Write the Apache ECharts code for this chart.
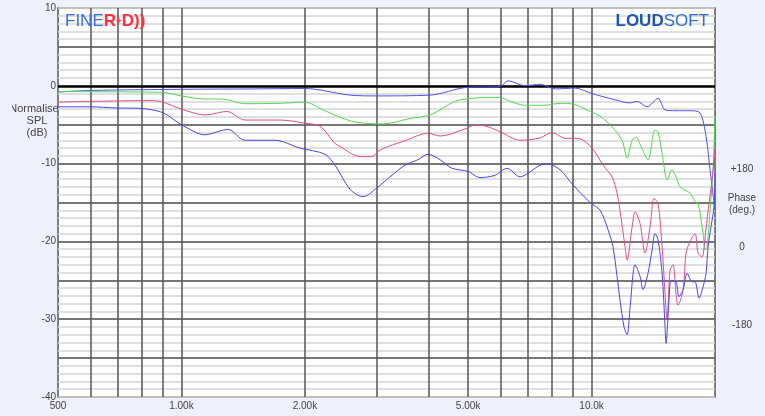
<!DOCTYPE html>
<html><head><meta charset="utf-8">
<script src="https://cdn.jsdelivr.net/npm/echarts@6/dist/echarts.min.js"></script>
<style>html,body{margin:0;padding:0;background:#eef0fb;}#c{width:765px;height:416px;}</style>
</head><body><div id="c"></div>
<script>
// ---- data (frequency in Hz, level in dB) ----
const topFreq = [500,600,1000,1500,2000,2580,3000,4040,4970,5980,6260,6880,7490,8150,9120,10030,11410,12420,12910,13660,14530,15110,15980,17390,18390,19020,19450,20000];
const topDb   = [-0.8,-0.6,-0.45,-0.4,-0.35,-1.2,-1.3,-1.2,-0.2,-0.1,0.65,0,0.2,-0.4,-0.3,-1.0,-1.8,-2.2,-2.0,-2.7,-1.6,-3.1,-3.2,-3.2,-3.5,-6.5,-10.8,-16];

const greenFreq = [500,900,1000,1140,1255,1430,1740,2000,2214,2620,3100,3610,4040,4780,5980,6330,6880,7700,8380,9010,9920,10490,11220,11870,12210,12560,12840,13200,13730,14280,14530,14940,15280,15720,16070,16440,17390,17880,18190,18710,18920,19130,19450,19780,20000];
const greenDb   = [-0.75,-0.85,-1.3,-1.7,-1.7,-2.3,-2.25,-2.1,-3.1,-4.6,-4.9,-4.2,-3.75,-1.8,-1.5,-2.0,-2.5,-2.5,-2.25,-2.35,-3.3,-3.9,-5.3,-7.0,-9.3,-7.0,-6.6,-7.8,-9.5,-5.7,-5.9,-9.5,-12.1,-10.8,-11.7,-13,-13.8,-14.9,-15.1,-19,-21.1,-20.7,-16,-10.8,-4];

const redFreq = [500,600,838,901,1000,1141,1291,1428,1739,2000,2177,2368,2436,2725,2915,3049,3509,3993,4271,4914,5198,5438,5982,6693,7488,8010,8618,9116,9376,10030,10670,11220,11540,11730,12070,12210,12560,12770,13130,13500,13890,14200,14530,14860,15110,15280,15540,15800,16070,16250,16720,17000,17390,17880,18190,18600,18920,19240,19670,20000];
const redDb   = [-2.1,-2.0,-1.9,-2.1,-3.0,-3.75,-3.3,-4.4,-4.4,-4.8,-5.2,-7.4,-7.8,-9.1,-9.1,-8.25,-7.05,-6.1,-6.45,-5.55,-5.05,-5.1,-5.9,-7.0,-6.7,-6.0,-6.75,-6.75,-6.8,-8.0,-10.2,-11.7,-13.8,-16,-20.7,-22.4,-18.1,-16.2,-17.7,-21.5,-18.1,-14.5,-15.1,-20.7,-26.7,-30.1,-23.7,-23.0,-26.7,-28.2,-26.2,-21.5,-20.0,-19.0,-21.5,-22.0,-19.4,-16,-12.1,-8];

const lowFreq = [500,598,696,792,901,1000,1141,1298,1428,1690,1945,2239,2368,2576,2771,3015,3225,3509,3774,3993,4271,4568,4998,5346,5816,6222,6693,7001,7488,7832,8379,9014,9916,10490,10970,11280,11540,11730,12000,12210,12420,12770,13130,13350,13730,14050,14280,14530,14860,15110,15190,15450,15630,16070,16340,16720,17100,17590,17880,18290,18710,19020,19240,19560,19890,20000];
const lowDb   = [-2.7,-2.7,-2.85,-2.9,-3.45,-5.0,-6.3,-5.6,-7.0,-7.0,-8.0,-8.8,-10.2,-13.3,-14.25,-13.0,-11.7,-10.2,-9.5,-8.8,-9.5,-10.6,-11.0,-11.8,-11.5,-10.6,-11.7,-11.25,-10.2,-10.05,-10.8,-12.75,-15.0,-16,-18.5,-20.7,-24.5,-27.5,-31,-32,-28.4,-23,-24.5,-26.2,-24.1,-21.1,-19.0,-19.8,-24.1,-31,-33.1,-27.5,-25,-25.2,-27.1,-26.2,-24.1,-25.2,-25.2,-27.3,-25.8,-24.1,-20.7,-18.1,-15.5,-11];

// axis ticks
const xTickValues = [500,1000,2000,5000,10000];
const xTickLabels = ['500','1.00k','2.00k','5.00k','10.0k'];
const xGridFreqs = [600,700,800,900,1000,2000,3000,4000,5000,6000,7000,8000,9000,10000];
const yMajorLines = [-35,-30,-25,-20,-15,-10,-5,5];
const phaseTicks = [-180,0,180];

const pairs = (f, d) => f.map((v, i) => [v, d[i]]);

const chart = echarts.init(document.getElementById('c'));
const FONT = 'Liberation Sans, Arial, sans-serif';
const lineSeries = (data, color) => ({
  type: 'line', data, xAxisIndex: 0, yAxisIndex: 0, showSymbol: false, symbol: 'none',
  smooth: 0.3, z: 5, silent: true,
  lineStyle: { color, width: 1 }
});

chart.setOption({
  animation: false,
  backgroundColor: '#eef0fb',
  grid: { left: 58, top: 8, right: 50, bottom: 19, show: true, backgroundColor: '#ffffff', borderColor: '#555', borderWidth: 1.5 },
  xAxis: {
    type: 'log', logBase: 10, min: 500, max: 20000,
    axisLine: { show: false }, axisTick: { show: false }, splitLine: { show: false },
    axisLabel: {
      customValues: xTickValues, margin: 4, color: '#444', fontSize: 10, fontFamily: FONT,
      formatter: v => { const i = xTickValues.indexOf(Math.round(v)); return i >= 0 ? xTickLabels[i] : ''; }
    }
  },
  yAxis: [{
    type: 'value', min: -40, max: 10, interval: 1,
    axisLine: { show: false }, axisTick: { show: false },
    splitLine: { show: true, lineStyle: { color: '#d6d6d6', width: 1.5 } },
    axisLabel: { margin: 2, color: '#444', fontSize: 10, fontFamily: FONT, formatter: v => (v % 10 === 0 ? String(v) : '') }
  }, {
    type: 'value', min: -347, max: 553, position: 'right',
    axisLine: { show: false }, axisTick: { show: false }, splitLine: { show: false },
    axisLabel: { customValues: phaseTicks, align: 'center', margin: 27, color: '#444', fontSize: 10, fontFamily: FONT,
      formatter: v => (v > 0 ? '+' + v : String(v)) }
  }],
  series: [
    { type: 'line', data: [], silent: true, z: 2,
      markLine: { silent: true, symbol: 'none', label: { show: false },
        lineStyle: { color: '#555', width: 1.5, type: 'solid' },
        data: xGridFreqs.map(f => ({ xAxis: f })).concat(yMajorLines.map(v => ({ yAxis: v }))) } },
    { type: 'line', data: [], silent: true, z: 3,
      markLine: { silent: true, symbol: 'none', label: { show: false },
        lineStyle: { color: '#000', width: 2.6, type: 'solid' }, data: [{ yAxis: 0 }] } },
    lineSeries(pairs(topFreq, topDb), '#5050ee'),
    lineSeries(pairs(greenFreq, greenDb), '#55d655'),
    lineSeries(pairs(redFreq, redDb), '#e24c8c'),
    lineSeries(pairs(lowFreq, lowDb), '#4646ec')
  ],
  graphic: [
    { type: 'text', left: 65, top: 13, z: 10, style: { rich: {
        a: { fill: '#3b6ee6', fontSize: 17, fontFamily: FONT },
        b: { fill: '#ff3040', fontSize: 17, fontWeight: 'bold', fontFamily: FONT },
        c: { fill: '#ff3040', fontSize: 10, fontWeight: 'bold', fontFamily: FONT } },
      text: '{a|FINE}{b|R}{c|+}{b|D))}' } },
    { type: 'text', right: 56, top: 13, z: 10, style: { rich: {
        a: { fill: '#1d56ae', fontSize: 17, fontWeight: 'bold', fontFamily: FONT },
        b: { fill: '#2f6fc8', fontSize: 17, fontFamily: FONT } },
      text: '{a|LOUD}{b|SOFT}' } },
    { type: 'text', x: 37, y: 103, z: -5, style: { text: 'Normalised\nSPL\n(dB)', fill: '#444', fontSize: 11, fontFamily: FONT, align: 'center', lineHeight: 12 } },
    { type: 'rect', z: -4, shape: { x: 0, y: 100, width: 12, height: 14 }, style: { fill: '#eef0fb' } },
    { type: 'text', x: 742, y: 192, z: 10, style: { text: 'Phase\n(deg.)', fill: '#444', fontSize: 10, fontFamily: FONT, align: 'center', lineHeight: 12 } }
  ]
});
</script></body></html>
